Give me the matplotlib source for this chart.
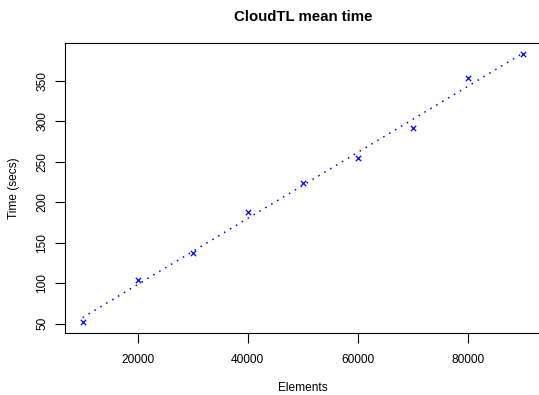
import matplotlib
matplotlib.use("Agg")
import matplotlib.pyplot as plt
import numpy as np

# данные
elements = [10000, 20000, 30000, 40000, 50000, 60000, 70000, 80000, 90000]
times = [51.7, 103.5, 136.9, 188.3, 224.0, 254.2, 291.2, 353.0, 382.6]
xticks = [20000, 40000, 60000, 80000]
yticks = [50, 100, 150, 200, 250, 300, 350]

plt.rcParams['font.family'] = ['Liberation Sans', 'DejaVu Sans']

fig = plt.figure(figsize=(5.39, 3.95), dpi=100)
ax = fig.add_axes([0.1206, 0.157, 0.882, 0.733])

# линия регрессии
k, b = np.polyfit(elements, times, 1)
xs = np.array([elements[0], elements[-1]])
ax.plot(xs, k * xs + b, color='blue', lw=1.1, linestyle=(0, (1, 3.5)))

ax.scatter(elements, times, marker='x', color='blue', s=15, linewidths=0.9, zorder=3)

# пределы как в R (+4%)
dx = (max(elements) - min(elements)) * 0.04
dy = (max(times) - min(times)) * 0.04
ax.set_xlim(min(elements) - dx, max(elements) + dx)
ax.set_ylim(min(times) - dy, max(times) + dy)

ax.set_xticks(xticks)
ax.set_yticks(yticks)
ax.set_yticklabels([str(v) for v in yticks], rotation=90, va='center')
ax.tick_params(direction='out', length=7, width=0.8, labelsize=8.6)
ax.tick_params(axis='x', pad=8)
ax.tick_params(axis='y', pad=5)

ax.set_title('CloudTL mean time', fontsize=10.8, fontweight='bold', pad=16)
ax.set_xlabel('Elements', fontsize=8.6, labelpad=12)
ax.set_ylabel('Time (secs)', fontsize=8.6, labelpad=12)

plt.savefig('out.png', dpi=100)
